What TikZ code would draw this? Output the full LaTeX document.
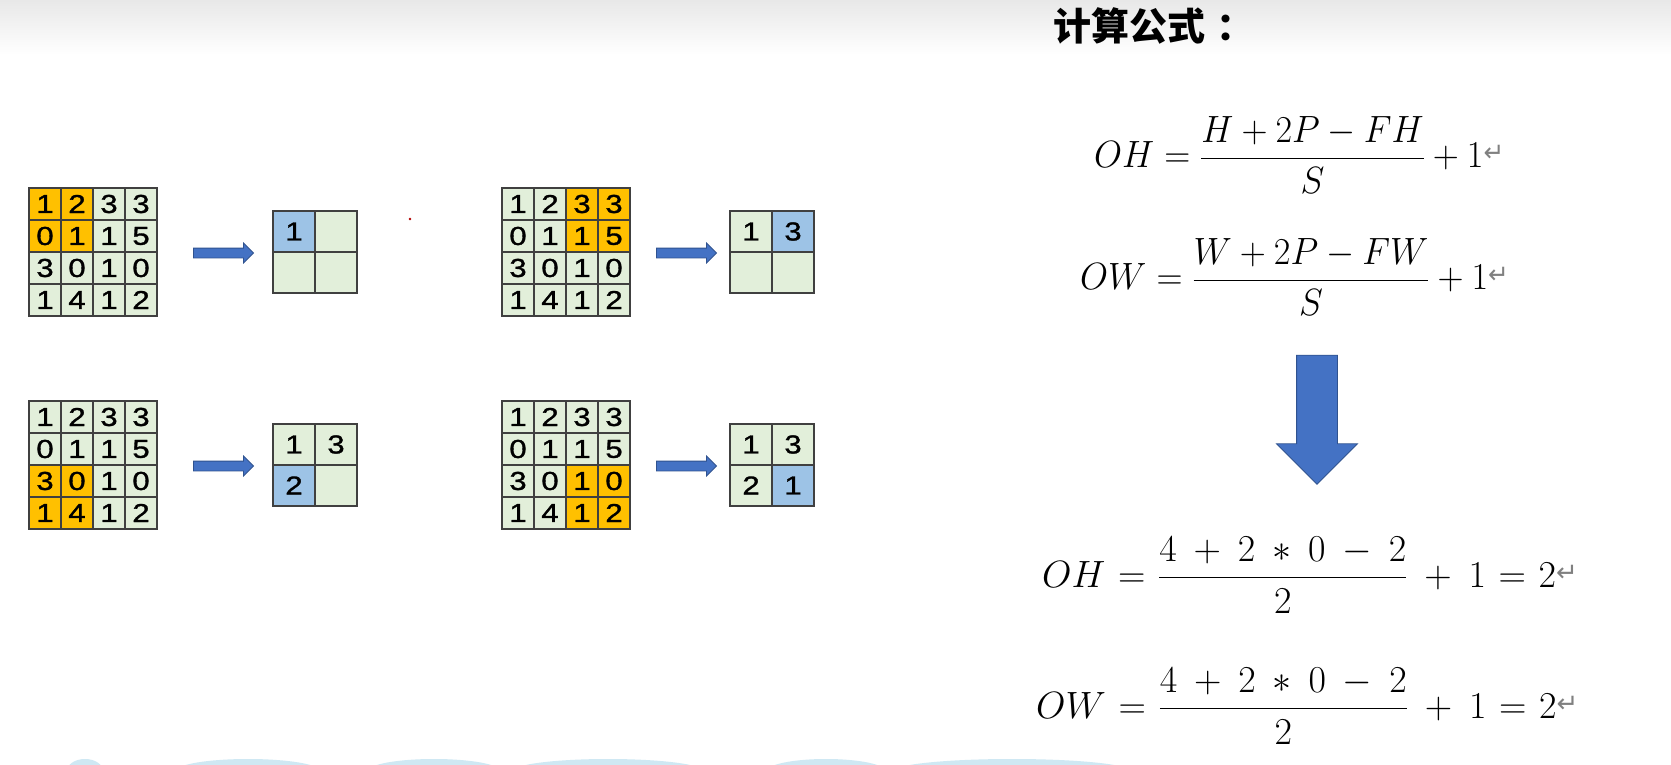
\RequirePackage{fix-cm}
\documentclass[tikz,border=0pt]{standalone}
\usepackage[no-math]{fontspec}
\newfontfamily\cellfont[FakeBold=1.2, FakeStretch=1.2]{Liberation Sans}
\newfontfamily\cjk{Noto Sans CJK SC}
\newfontfamily\symfont{DejaVu Sans}
\usetikzlibrary{shapes.arrows, calc}
\definecolor{GridLine}{RGB}{64,64,64}
\definecolor{CellGreen}{RGB}{226,239,218}
\definecolor{CellOrange}{RGB}{255,192,0}
\definecolor{CellBlue}{RGB}{157,195,230}
\definecolor{ArrowBlue}{RGB}{68,114,196}
\definecolor{ArrowEdge}{RGB}{47,82,143}
\definecolor{WaveBlue}{RGB}{207,232,243}

\tikzset{
  incell/.style={draw=GridLine, line width=1.2pt, minimum width=32pt, minimum height=32pt,
    inner sep=0pt, font=\cellfont\fontsize{26}{26}\selectfont},
  outcell/.style={draw=GridLine, line width=1.2pt, minimum width=42pt, minimum height=41pt,
    inner sep=0pt, font=\cellfont\fontsize{26}{26}\selectfont},
  flowarrow/.style={single arrow, draw=ArrowEdge, fill=ArrowBlue, line width=0.8pt,
    inner xsep=0pt, inner ysep=4.5pt, minimum height=60pt,
    single arrow head extend=5pt, single arrow tip angle=90},
  downarrow/.style={single arrow, draw=ArrowEdge, fill=ArrowBlue, line width=0.8pt,
    inner xsep=0pt, inner ysep=20pt, minimum height=129pt,
    single arrow head extend=20pt, single arrow tip angle=90, rotate=-90},
  formula/.style={anchor=west, inner sep=0pt, font=\fontsize{38}{44}\selectfont},
  narrow/.style={xscale=0.95, transform shape},
  wideops/.style={execute at begin node={\medmuskip=8mu\thickmuskip=6mu}},
}

\newcommand{\retmark}{\raisebox{6pt}{\symfont\fontsize{26}{26}\selectfont\color{gray}↵}}

% 4x4 input, window of 2x2 starting at row #4, column #5
\newcommand{\ingrid}[5]{%
  \foreach \v [count=\i from 0] in {1,2,3,3,0,1,1,5,3,0,1,0,1,4,1,2}{
    \pgfmathtruncatemacro\row{int(\i/4)}
    \pgfmathtruncatemacro\col{mod(\i,4)}
    \pgfmathtruncatemacro\hit{(\row>=#4)&&(\row<=#4+1)&&(\col>=#5)&&(\col<=#5+1)}
    \ifnum\hit=1 \def\cellcol{CellOrange}\else\def\cellcol{CellGreen}\fi
    \node[incell, fill=\cellcol] (#1-\row-\col) at ({#2+16+32*\col},{#3+16+32*\row}) {\v};
  }
}

% 2x2 output, cell #5 is the new one
\newcommand{\outgrid}[5]{%
  \foreach \v [count=\i from 0] in {#4}{
    \pgfmathtruncatemacro\row{int(\i/2)}
    \pgfmathtruncatemacro\col{mod(\i,2)}
    \ifnum\i=#5 \def\cellcol{CellBlue}\else\def\cellcol{CellGreen}\fi
    \node[outcell, fill=\cellcol] (#1-\row-\col) at ({#2+21+42*\col},{#3+20.5+41*\row}) {\v};
  }
}

\begin{document}
\begin{tikzpicture}[x=1pt, y=-1pt]
  \useasboundingbox (0,0) rectangle (1671,765);
  \fill[white] (0,0) rectangle (1671,765);
  \shade[top color=black!9, bottom color=white] (0,0) rectangle (1671,55);
  \begin{scope}
    \clip (0,0) rectangle (1671,765);
    \foreach \cx/\rx in {85/18, 248/72, 434/66, 608/95, 826/59, 1012/118}
      \fill[WaveBlue] (\cx,771) ellipse [x radius=\rx, y radius=12];
  \end{scope}

  % sliding window steps
  \ingrid{inA}{29}{188}{0}{0}
  \ingrid{inB}{502}{188}{0}{2}
  \ingrid{inC}{29}{401}{2}{0}
  \ingrid{inD}{502}{401}{2}{2}
  \outgrid{outA}{273}{211}{1,{},{},{}}{0}
  \outgrid{outB}{730}{211}{1,3,{},{}}{1}
  \outgrid{outC}{273}{424}{1,3,2,{}}{2}
  \outgrid{outD}{730}{424}{1,3,2,1}{3}
  \node[flowarrow] (arrA) at (221,253) {};
  \node[flowarrow] (arrB) at (684,253) {};
  \node[flowarrow] (arrC) at (221,466) {};
  \node[flowarrow] (arrD) at (684,466) {};
  \fill[red!70!black] (410,219) circle (1.3pt);

  % formulas
  \node[anchor=west, inner sep=0pt, font=\cjk\bfseries\fontsize{38}{38}\selectfont] (title) at (1053,26) {计算公式\hspace{0.3em}：};
  \node[formula, narrow] (ohrule) at (1094,155) {$\displaystyle OH=\frac{H+2P-FH}{S}+1$\retmark};
  \node[formula, narrow] (owrule) at (1080,277) {$\displaystyle OW=\frac{W+2P-FW}{S}+1$\retmark};
  \node[downarrow] (down) at (1317,409.5) {};
  \node[formula, wideops] (ohval) at (1042,575) {$\displaystyle OH=\frac{4+2*0-2}{2}+1=2$\retmark};
  \node[formula, wideops] (owval) at (1036,706) {$\displaystyle OW=\frac{4+2*0-2}{2}+1=2$\retmark};
\end{tikzpicture}
\end{document}
